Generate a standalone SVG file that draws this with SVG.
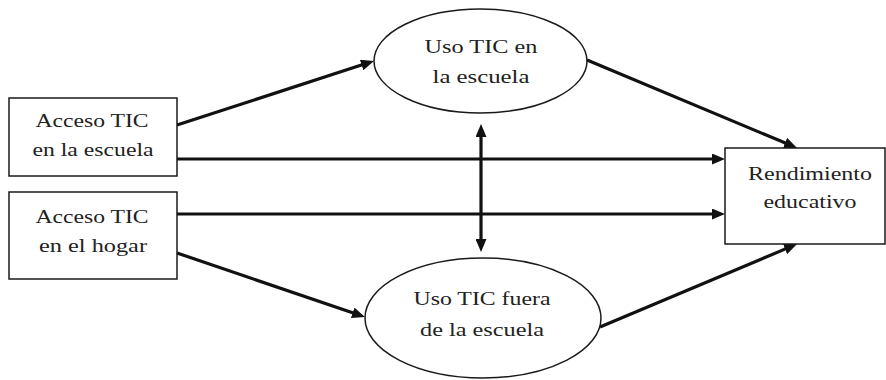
<svg xmlns="http://www.w3.org/2000/svg" width="886" height="380" viewBox="0 0 886 380">
<style>
.box{fill:#fff;stroke:#1a1a1a;stroke-width:1.5}
text{font-family:'Liberation Serif','Times New Roman',Times,serif;font-size:18.5px;fill:#222;text-anchor:middle}
.arr{stroke:#111;stroke-width:3.2;fill:none;marker-end:url(#ah)}
</style>
<defs>
<marker id="ah" markerUnits="userSpaceOnUse" markerWidth="13" markerHeight="11" refX="3" refY="5.5" orient="auto-start-reverse">
<path d="M0,0 L13,5.5 L0,11 z" fill="#111"/>
</marker>
</defs>
<rect width="886" height="380" fill="#fff"/>
<g id="connectors">
<line class="arr" x1="177" y1="125" x2="364.5" y2="64.1"/>
<line class="arr" x1="177" y1="159" x2="715" y2="159"/>
<line class="arr" x1="177" y1="214" x2="715" y2="214"/>
<line class="arr" x1="177" y1="253" x2="355.5" y2="313.8"/>
<line class="arr" x1="587" y1="60" x2="787.8" y2="144.1"/>
<line class="arr" x1="600" y1="327" x2="787.8" y2="247.9"/>
<line class="arr" x1="481" y1="134" x2="481" y2="242" marker-start="url(#ah)"/>
</g>
<g id="acceso-escuela">
<rect class="box" x="9" y="98" width="168" height="78"/>
<text x="92" y="127" textLength="113" lengthAdjust="spacingAndGlyphs">Acceso TIC</text>
<text x="93" y="156" textLength="121" lengthAdjust="spacingAndGlyphs">en la escuela</text>
</g>
<g id="acceso-hogar">
<rect class="box" x="9" y="192" width="168" height="87"/>
<text x="92" y="223" textLength="113" lengthAdjust="spacingAndGlyphs">Acceso TIC</text>
<text x="93" y="252" textLength="108" lengthAdjust="spacingAndGlyphs">en el hogar</text>
</g>
<g id="uso-escuela">
<ellipse class="box" cx="480.5" cy="61" rx="106.5" ry="52"/>
<text x="481" y="53" textLength="113" lengthAdjust="spacingAndGlyphs">Uso TIC en</text>
<text x="481" y="83" textLength="97" lengthAdjust="spacingAndGlyphs">la escuela</text>
</g>
<g id="uso-fuera">
<ellipse class="box" cx="483" cy="318" rx="118" ry="60"/>
<text x="482" y="305" textLength="137" lengthAdjust="spacingAndGlyphs">Uso TIC fuera</text>
<text x="482" y="336" textLength="124" lengthAdjust="spacingAndGlyphs">de la escuela</text>
</g>
<g id="rendimiento">
<rect class="box" x="725" y="148" width="160" height="96"/>
<text x="810" y="180" textLength="124" lengthAdjust="spacingAndGlyphs">Rendimiento</text>
<text x="810" y="208" textLength="93" lengthAdjust="spacingAndGlyphs">educativo</text>
</g>
</svg>
